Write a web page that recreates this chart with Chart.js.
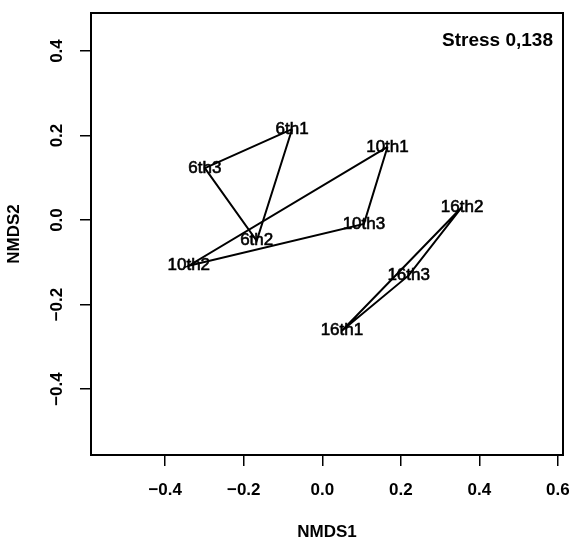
<!DOCTYPE html>
<html>
<head>
<meta charset="utf-8">
<script src="https://cdn.jsdelivr.net/npm/chart.js@4/dist/chart.umd.min.js"></script>
<style>
  html, body { margin: 0; padding: 0; background: #fff; }
  #wrap { width: 571px; height: 544px; }
</style>
</head>
<body>
<div id="wrap"><canvas id="nmds"></canvas></div>
<script>
// site scores
const sites = ['6th1', '6th2', '6th3', '10th1', '10th2', '10th3', '16th1', '16th2', '16th3'];
const nmds1 = [-0.077, -0.167, -0.299, 0.166, -0.340, 0.106, 0.050, 0.356, 0.220];
const nmds2 = [0.215, -0.049, 0.123, 0.173, -0.108, -0.009, -0.262, 0.031, -0.131];

// hull outline of each group (site names, in drawing order)
const hulls = [
  ['6th1', '6th3', '6th2'],
  ['10th1', '10th2', '10th3'],
  ['16th2', '16th1', '16th3']
];

const xTicks = [-0.4, -0.2, 0.0, 0.2, 0.4, 0.6];
const yTicks = [-0.4, -0.2, 0.0, 0.2, 0.4];
const stressText = 'Stress 0,138';

const FONT = '"Liberation Sans", Arial, Helvetica, sans-serif';

function pt(name) {
  const i = sites.indexOf(name);
  return { x: nmds1[i], y: nmds2[i] };
}

const datasets = hulls.map(function(h) {
  const pts = h.map(pt);
  pts.push(pt(h[0]));
  return {
    data: pts,
    showLine: true,
    borderColor: '#000',
    borderWidth: 2,
    pointRadius: 0,
    fill: false,
    tension: 0
  };
});

function fmt(v) {
  return v.toFixed(1).replace('-', '\u2212');
}

const extras = {
  id: 'extras',
  afterDraw(chart) {
    const c = chart.ctx;
    const a = chart.chartArea;
    const xs = chart.scales.x, ys = chart.scales.y;
    c.save();
    // box
    c.strokeStyle = '#000';
    c.lineWidth = 2;
    c.strokeRect(a.left, a.top, a.right - a.left, a.bottom - a.top);

    c.fillStyle = '#000';
    c.textAlign = 'center';
    c.textBaseline = 'middle';

    // site labels (thin outline to give the heavier look)
    c.font = '17px ' + FONT;
    c.lineWidth = 0.6;
    sites.forEach(function(s, i) {
      const px = xs.getPixelForValue(nmds1[i]);
      const py = ys.getPixelForValue(nmds2[i]);
      c.fillText(s, px, py);
      c.strokeText(s, px, py);
    });

    // y tick labels, rotated
    c.font = 'bold 17px ' + FONT;
    yTicks.forEach(function(v) {
      c.save();
      c.translate(a.left - 34, ys.getPixelForValue(v));
      c.rotate(-Math.PI / 2);
      c.fillText(fmt(v), 0, 0);
      c.restore();
    });

    // axis titles
    c.fillText('NMDS1', (a.left + a.right) / 2, a.bottom + 77);
    c.save();
    c.translate(a.left - 77, (a.top + a.bottom) / 2);
    c.rotate(-Math.PI / 2);
    c.fillText('NMDS2', 0, 0);
    c.restore();

    // stress value
    c.font = 'bold 19px ' + FONT;
    c.textAlign = 'right';
    c.fillText(stressText, a.right - 10, a.top + 28);
    c.restore();
  }
};

new Chart(document.getElementById('nmds'), {
  type: 'scatter',
  data: { datasets: datasets },
  options: {
    responsive: true,
    maintainAspectRatio: false,
    animation: false,
    layout: { padding: { left: 0, right: 8, top: 13, bottom: 0 } },
    plugins: { legend: { display: false }, tooltip: { enabled: false } },
    scales: {
      x: {
        type: 'linear',
        min: -0.589,
        max: 0.613,
        afterBuildTicks: function(scale) {
          scale.ticks = xTicks.map(function(v) { return { value: v }; });
        },
        afterFit: function(scale) {
          scale.height = 89;
          scale.paddingLeft = 0;
          scale.paddingRight = 0;
        },
        border: { display: false },
        grid: { drawOnChartArea: false, drawTicks: true, tickLength: 11, color: '#000', lineWidth: 1.5 },
        ticks: {
          color: '#000',
          padding: 14,
          maxRotation: 0,
          font: { family: FONT, size: 17, weight: 'bold' },
          callback: function(v) { return fmt(v); }
        }
      },
      y: {
        type: 'linear',
        min: -0.556,
        max: 0.49,
        afterBuildTicks: function(scale) {
          scale.ticks = yTicks.map(function(v) { return { value: v }; });
        },
        afterFit: function(scale) {
          scale.width = 91;
          scale.paddingTop = 0;
          scale.paddingBottom = 0;
        },
        border: { display: false },
        grid: { drawOnChartArea: false, drawTicks: true, tickLength: 11, color: '#000', lineWidth: 1.5 },
        ticks: { display: false }
      }
    }
  },
  plugins: [extras]
});
</script>
</body>
</html>
